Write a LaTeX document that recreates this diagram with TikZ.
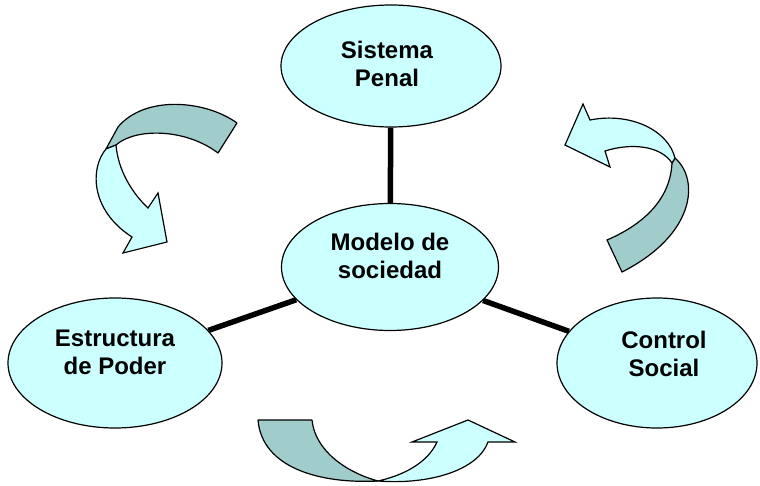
\documentclass[tikz,border=0pt]{standalone}
\usepackage{fontspec}
\setmainfont{Liberation Sans}
\usetikzlibrary{shapes.geometric,backgrounds}
\definecolor{lightc}{HTML}{CCFFFF}
\definecolor{darkc}{HTML}{A0CCCC}
\tikzset{
  ell/.style={ellipse,draw=black,line width=1.2pt,fill=lightc,inner sep=0pt},
  txt/.style={align=center,font=\bfseries\fontsize{24}{28}\selectfont,inner sep=0pt},
  conn/.style={line width=5.5pt},
  ribdark/.style={fill=darkc,draw=black,line width=1.2pt,line join=round},
  riblight/.style={fill=lightc,draw=black,line width=1.2pt,line join=miter},
}
\begin{document}
\begin{tikzpicture}[x=1pt,y=-1pt]
\useasboundingbox (0,0) rectangle (760,486);
% ellipses
\node[ell,minimum width=220pt,minimum height=122pt] (sp) at (391,66) {};
\node[ell,minimum width=217pt,minimum height=127pt] (ms) at (390,267) {};
\node[ell,minimum width=214pt,minimum height=130pt] (ep) at (115,363) {};
\node[ell,minimum width=200pt,minimum height=130pt] (cs) at (657,363) {};
% texts
\node[txt] (tsp) at (387,63.5) {Sistema\\Penal};
\node[txt] (tms) at (390,256) {Modelo de\\sociedad};
\node[txt] (tep) at (115,352.5) {Estructura\\de Poder};
\node[txt] (tcs) at (664,354) {Control\\Social};
% connectors
\begin{scope}[on background layer]
\draw[conn] (sp) -- (ms);
\draw[conn] (ep) -- (ms);
\draw[conn] (ms) -- (cs);
\end{scope}
% arrow top-left
\draw[ribdark] (237,123) .. controls (205,100) and (145,95) .. (118,127)
  -- (106,149) -- (116,145) .. controls (135,128) and (185,128) .. (218,153) -- cycle;
\draw[riblight] (106,149) .. controls (90,168) and (90,210) .. (132,237)
  -- (123,253) -- (167,242) -- (158,193) -- (148,208)
  .. controls (132,193) and (118,170) .. (116,145) -- cycle;
% arrow top-right
\draw[ribdark] (675,158) .. controls (700,180) and (695,235) .. (622,272)
  -- (607,240) .. controls (635,228) and (670,205) .. (672,163) -- cycle;
\draw[riblight] (675,158) .. controls (668,130) and (630,112) .. (590,120)
  -- (583,104) -- (565,145) -- (610,167) -- (605,151)
  .. controls (630,143) and (660,145) .. (672,163) -- cycle;
% arrow bottom
\draw[ribdark] (258,420) -- (312,420) .. controls (315,450) and (345,472) .. (378,481)
  .. controls (320,484) and (262,468) .. (258,420) -- cycle;
\draw[riblight] (378,481) .. controls (405,475) and (428,462) .. (437,442)
  -- (412,442) -- (468,420) -- (515,442) -- (488,442)
  .. controls (478,470) and (430,485) .. (378,481) -- cycle;
\end{tikzpicture}
\end{document}
